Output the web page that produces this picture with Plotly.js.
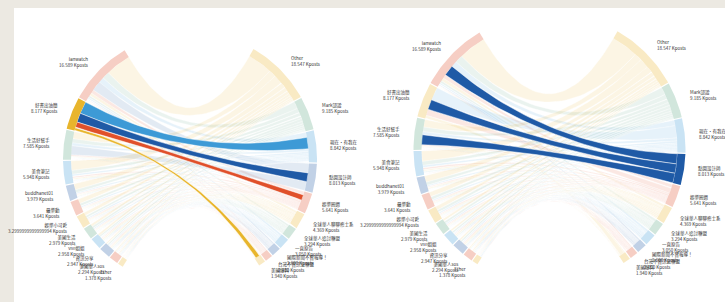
<!DOCTYPE html>
<html><head><meta charset="utf-8">
<script src="https://cdn.plot.ly/plotly-3.0.1.min.js"></script>
<style>html,body{margin:0;padding:0;background:#ece9e2;overflow:hidden}#chart{width:725px;height:302px}</style>
</head><body><div id="chart"></div>
<script>
// ---- data ----
const leftNames = ["lanwatch","好書出油簡","生活好幫手","美食筆記","buddhanet01","最樂動","娛樂小可愛","美國生活","vivi姐姐","資訊分享","美國華人sos","Ether"];
const leftValues = [16.589, 8.177, 7.585, 5.948, 3.979, 3.641, 3.2999999999999994, 2.979, 2.958, 2.947, 2.294, 1.378];
const rightNames = ["Other","Mark認證","現在・有我在","點圖設計師","娛樂圈週","全球華人聊聊修士系","全球華人追討聯盟","一直原告","國際新聞不實報導！","台灣不實訊息聯盟","美國爆料"];
const rightValues = [18.547, 9.185, 8.842, 8.013, 5.641, 4.369, 3.294, 3.050, 2.6, 2.1, 1.940];
// flows[left][right]  (Kposts)
const flows = [
  [7.0, 2.0, 1.5, 2.7, 1.0, 0.8, 0.6, 0.5, 0.3, 0.2, 0.2],
  [0.0, 0.0, 3.3, 2.5, 1.6, 0.0, 0.0, 0.0, 0.0, 0.0, 0.8],
  [2.0, 1.2, 0.8, 2.6, 0.4, 0.3, 0.2, 0.2, 0.1, 0.1, 0.05],
  [2.5, 1.0, 0.6, 0.0, 0.5, 0.4, 0.3, 0.2, 0.1, 0.1, 0.05],
  [1.6, 0.8, 0.4, 0.0, 0.3, 0.3, 0.2, 0.1, 0.1, 0.05, 0.05],
  [1.2, 0.8, 0.4, 0.0, 0.3, 0.3, 0.2, 0.1, 0.1, 0.1, 0.05],
  [0.9, 0.7, 0.4, 0.0, 0.3, 0.3, 0.2, 0.2, 0.1, 0.1, 0.0],
  [0.7, 0.6, 0.4, 0.0, 0.3, 0.3, 0.2, 0.2, 0.1, 0.1, 0.05],
  [0.6, 0.5, 0.3, 0.0, 0.3, 0.4, 0.3, 0.2, 0.15, 0.1, 0.0],
  [0.5, 0.5, 0.3, 0.0, 0.3, 0.4, 0.3, 0.3, 0.2, 0.1, 0.0],
  [0.4, 0.3, 0.2, 0.0, 0.2, 0.4, 0.3, 0.3, 0.2, 0.1, 0.0],
  [0.2, 0.2, 0.1, 0.0, 0.1, 0.2, 0.2, 0.2, 0.1, 0.05, 0.0]
];

// ---- style / layout ----
const palette = ['#e0502a', '#e8b52c', '#5aa480', '#3d9ad6', '#1f5aa6'];
const charts = [
  {cx:190, cy:159, r:127, hl:'left', hi:1},
  {cx:549.5, cy:149, r:136, hl:'right', hi:3}
];
const LEFT_SPAN = [121, 238], RIGHT_SPAN = [60, -57], PAD = 0.5, BAND = 8;

function rgba(hex, a){const n=parseInt(hex.slice(1),16);return `rgba(${n>>16&255},${n>>8&255},${n&255},${a})`;}
function sideAngles(values, a0, a1){
  const n=values.length, total=values.reduce((s,v)=>s+v,0), dir=a1>a0?1:-1;
  const span=Math.abs(a1-a0)-PAD*(n-1); let cur=a0;
  return values.map(v=>{const len=v/total*span, s=cur, e=cur+dir*len; cur=e+dir*PAD; return [s,e];});
}
function pt(c,a,r){const t=a*Math.PI/180;return [c.cx+r*Math.cos(t), c.cy-r*Math.sin(t)];}
function fmt(v){const s=String(v); const d=(s.split('.')[1]||'').length; return d<=3 ? v.toFixed(3) : s;}

const traces=[], annotations=[];
const leftAng = sideAngles(leftValues, LEFT_SPAN[0], LEFT_SPAN[1]);
const rightAng = sideAngles(rightValues, RIGHT_SPAN[0], RIGHT_SPAN[1]);
const rowSum = flows.map(r=>r.reduce((s,v)=>s+v,0));
const colSum = rightValues.map((_,j)=>flows.reduce((s,r)=>s+r[j],0));

charts.forEach(c=>{
  const rIn=c.r-BAND;
  const lsub=[], rsub=[];
  leftValues.forEach((_,i)=>{
    const [s,e]=leftAng[i]; let cum=0; lsub[i]=[];
    flows[i].forEach((f,j)=>{const a=s+(e-s)*cum/rowSum[i]; cum+=f; lsub[i][j]=[a, s+(e-s)*cum/rowSum[i]];});
  });
  rightValues.forEach((_,j)=>{
    const [s,e]=rightAng[j]; let cum=0;
    flows.forEach((row,i)=>{if(!rsub[i])rsub[i]=[]; const a=s+(e-s)*cum/colSum[j]; cum+=row[j]; rsub[i][j]=[a, s+(e-s)*cum/colSum[j]];});
  });
  const faint=[], strong=[];
  flows.forEach((row,i)=>row.forEach((f,j)=>{
    if(f<=0) return;
    const [s0,s1]=lsub[i][j], [t0,t1]=rsub[i][j];
    const xs=[], ys=[]; const push=p=>{xs.push(p[0]);ys.push(p[1]);};
    const C=[c.cx,c.cy];
    const bez=(P,Q)=>{for(let k=0;k<=40;k++){const t=k/40,u=1-t;push([u*u*P[0]+2*u*t*C[0]+t*t*Q[0], u*u*P[1]+2*u*t*C[1]+t*t*Q[1]]);}};
    const arc=(a,b)=>{for(let k=0;k<=8;k++)push(pt(c,a+(b-a)*k/8,rIn));};
    bez(pt(c,s0,rIn), pt(c,t0,rIn)); arc(t0,t1); bez(pt(c,t1,rIn), pt(c,s1,rIn)); arc(s1,s0);
    const col=palette[(j+1)%5];
    const isHl = (c.hl==='left' && i===c.hi) || (c.hl==='right' && j===c.hi);
    const tr={type:'scatter',mode:'lines',x:xs,y:ys,fill:'toself',hoverinfo:'skip',showlegend:false,
      fillcolor: isHl?col:rgba(col,0.13), line:{color:'rgba(255,255,255,0.8)',width:isHl?0.6:0.4}};
    (isHl?strong:faint).push(tr);
  }));
  traces.push(...faint, ...strong);
  const arcTrace=(a,b,col)=>{const xs=[],ys=[];
    for(let k=0;k<=24;k++){const p=pt(c,a+(b-a)*k/24,c.r);xs.push(p[0]);ys.push(p[1]);}
    for(let k=24;k>=0;k--){const p=pt(c,a+(b-a)*k/24,rIn);xs.push(p[0]);ys.push(p[1]);}
    traces.push({type:'scatter',mode:'lines',x:xs,y:ys,fill:'toself',fillcolor:col,line:{width:0},hoverinfo:'skip',showlegend:false});};
  leftAng.forEach(([a,b],i)=>{const col=palette[i%5]; arcTrace(a,b,(c.hl==='left'&&i===c.hi)?col:rgba(col,0.28));});
  rightAng.forEach(([a,b],j)=>{const col=palette[(j+1)%5]; arcTrace(a,b,(c.hl==='right'&&j===c.hi)?col:rgba(col,0.28));});
  const rl=c.r+12;
  const font={size:4.5,color:'#333',family:'Noto Sans CJK TC, Noto Sans, sans-serif'};
  leftAng.forEach(([a,b],i)=>{const p=pt(c,(a+b)/2,rl);
    annotations.push({x:p[0],y:p[1],xref:'x',yref:'y',text:leftNames[i]+'<br>'+fmt(leftValues[i])+' Kposts',showarrow:false,xanchor:'right',yanchor:'middle',align:'right',font});});
  rightAng.forEach(([a,b],j)=>{const p=pt(c,(a+b)/2,rl);
    annotations.push({x:p[0],y:p[1],xref:'x',yref:'y',text:rightNames[j]+'<br>'+fmt(rightValues[j])+' Kposts',showarrow:false,xanchor:'left',yanchor:'middle',align:'left',font});});
});

const layout={width:725,height:302,margin:{l:0,r:0,t:0,b:0},paper_bgcolor:'#ece9e2',plot_bgcolor:'rgba(0,0,0,0)',
  xaxis:{range:[0,725],visible:false,fixedrange:true},
  yaxis:{range:[302,0],visible:false,fixedrange:true},
  shapes:[{type:'rect',xref:'x',yref:'y',x0:14,y0:8,x1:725,y1:302,fillcolor:'#ffffff',line:{width:0},layer:'below'}],
  annotations, showlegend:false};
Plotly.newPlot('chart',traces,layout,{staticPlot:true,displayModeBar:false});
</script></body></html>
